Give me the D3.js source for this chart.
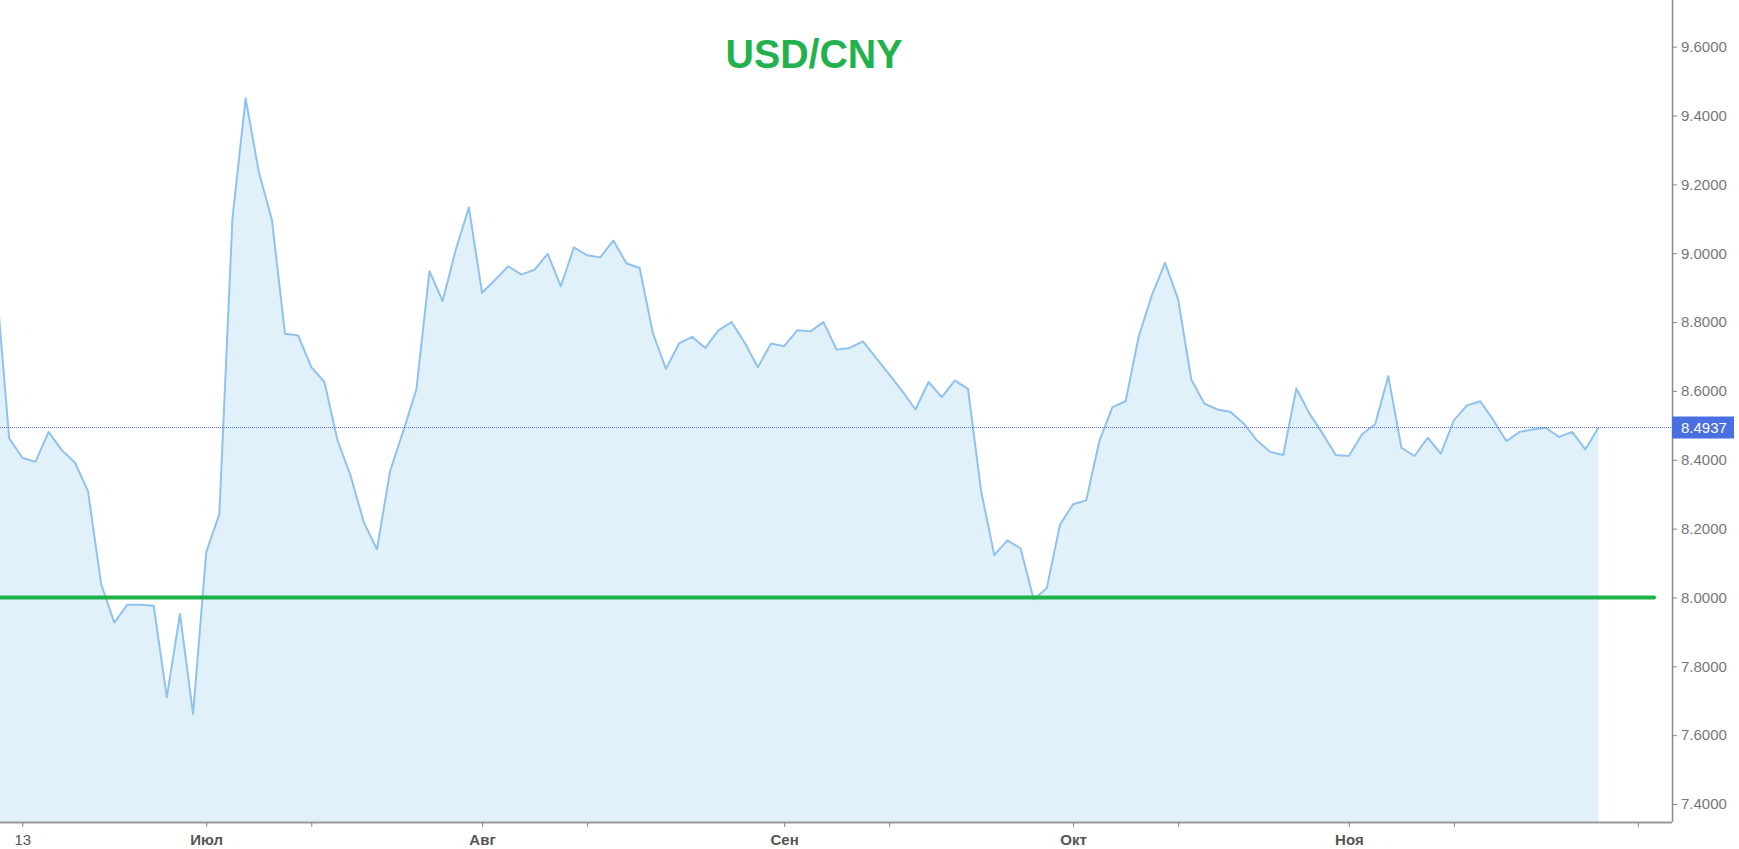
<!DOCTYPE html>
<html>
<head>
<meta charset="utf-8">
<style>
body { margin:0; background:#ffffff; }
svg { display:block; font-family:"Liberation Sans", Arial, sans-serif; }
.yaxis text { fill:#777777; font-size:15px; }
.xaxis text { fill:#555555; font-size:15px; }
</style>
<script src="https://cdnjs.cloudflare.com/ajax/libs/d3/7.8.5/d3.min.js"></script>
</head>
<body>
<svg id="chart" width="1739" height="849"></svg>
<script>
// rates, one per trading day (index = position on the axis)
var rates = [8.92, 8.462, 8.406, 8.394, 8.481, 8.428, 8.392, 8.309, 8.039, 7.927,
  7.979, 7.979, 7.976, 7.710, 7.952, 7.662, 8.131, 8.242, 9.102, 9.450,
  9.237, 9.097, 8.766, 8.761, 8.669, 8.626, 8.456, 8.353, 8.218, 8.140,
  8.367, 8.483, 8.604, 8.948, 8.861, 9.010, 9.133, 8.885, 8.923, 8.962,
  8.938, 8.952, 8.998, 8.904, 9.017, 8.994, 8.988, 9.037, 8.970, 8.957,
  8.769, 8.664, 8.738, 8.757, 8.725, 8.776, 8.800, 8.740, 8.669, 8.738,
  8.730, 8.776, 8.773, 8.800, 8.720, 8.725, 8.744, 8.696, 8.648, 8.599,
  8.546, 8.626, 8.582, 8.630, 8.606, 8.309, 8.123, 8.166, 8.143, 7.995,
  8.027, 8.211, 8.271, 8.282, 8.454, 8.553, 8.570, 8.759, 8.878, 8.972,
  8.866, 8.633, 8.563, 8.546, 8.539, 8.505, 8.456, 8.423, 8.414, 8.607,
  8.534, 8.476, 8.414, 8.411, 8.474, 8.503, 8.643, 8.435, 8.411, 8.464,
  8.418, 8.515, 8.558, 8.570, 8.515, 8.454, 8.481, 8.488, 8.493, 8.466,
  8.481, 8.430, 8.4937];
var lastRate = 8.4937;
var level = 8.0;

var tickIdx = [2, 16, 24, 37, 45, 60, 68, 82, 90, 103, 111, 125];
var tickNames = ["13", "Июл", "", "Авг", "", "Сен", "", "Окт", "", "Ноя", "", ""];
var yTicks = [7.4, 7.6, 7.8, 8.0, 8.2, 8.4, 8.6, 8.8, 9.0, 9.2, 9.4, 9.6];
var title = "USD/CNY";

var W = 1672, H = 822;
var svg = d3.select("#chart");
var x = d3.scaleLinear().domain([0.3, 127.6]).range([0, W]);
var y = d3.scaleLinear().domain([7.4, 9.6]).range([804, 46.7]);

svg.append("clipPath").attr("id", "plot").append("rect")
  .attr("x", 0).attr("y", 0).attr("width", W).attr("height", H);

var g = svg.append("g").attr("clip-path", "url(#plot)");

var area = d3.area().x(function(d, i) { return x(i); }).y0(H).y1(function(d) { return y(d); });
var line = d3.line().x(function(d, i) { return x(i); }).y(function(d) { return y(d); });

g.append("path").datum(rates).attr("d", area).attr("fill", "#e0f1fa");
g.append("path").datum(rates).attr("d", line)
  .attr("fill", "none").attr("stroke", "#90c2ef").attr("stroke-width", 2).attr("stroke-linejoin", "round");

// current rate guide
g.append("line").attr("x1", 0).attr("x2", W).attr("y1", y(lastRate)).attr("y2", y(lastRate))
  .attr("stroke", "#5b7fe6").attr("stroke-width", 1).attr("stroke-dasharray", "1,1");

// 8.0 level
svg.append("line").attr("x1", -4).attr("x2", 1654).attr("y1", y(level)).attr("y2", y(level))
  .attr("stroke", "#21b14b").attr("stroke-width", 4).attr("stroke-linecap", "round");

// axes
var yAxis = d3.axisRight(y).tickValues(yTicks).tickFormat(d3.format(".4f")).tickSize(5).tickPadding(4);
var ya = svg.append("g").attr("class", "yaxis").attr("transform", "translate(" + W + ",0)").call(yAxis);
ya.select(".domain").attr("d", "M0.5,0V" + H).attr("stroke", "#888888").attr("stroke-width", 1.5);
ya.selectAll(".tick line").attr("stroke", "#888888");

var xAxis = d3.axisBottom(x).tickValues(tickIdx).tickSize(5).tickPadding(7)
  .tickFormat(function(d, i) { return tickNames[i]; });
var xa = svg.append("g").attr("class", "xaxis").attr("transform", "translate(0," + H + ")").call(xAxis);
xa.select(".domain").attr("d", "M0,0.5H" + W).attr("stroke", "#999999").attr("stroke-width", 2);
xa.selectAll(".tick line").attr("stroke", "#888888");
xa.selectAll(".tick text").attr("font-weight", function(d, i) { return i === 0 ? "normal" : "bold"; })
  .attr("fill", function(d, i) { return i === 0 ? "#777777" : "#555555"; });

// last value marker
svg.append("rect").attr("x", W).attr("y", y(lastRate) - 11).attr("width", 62).attr("height", 22)
  .attr("fill", "#4a6fe0");
svg.append("text").attr("x", W + 9).attr("y", y(lastRate)).attr("dy", "0.35em")
  .attr("fill", "#ffffff").style("font-size", "15px").text(d3.format(".4f")(lastRate));

svg.append("text").attr("x", 814).attr("y", 68).attr("text-anchor", "middle")
  .attr("textLength", 177).attr("lengthAdjust", "spacingAndGlyphs")
  .attr("fill", "#22b14c").style("font-size", "40px").style("font-weight", "bold").text(title);
</script>
</body>
</html>
